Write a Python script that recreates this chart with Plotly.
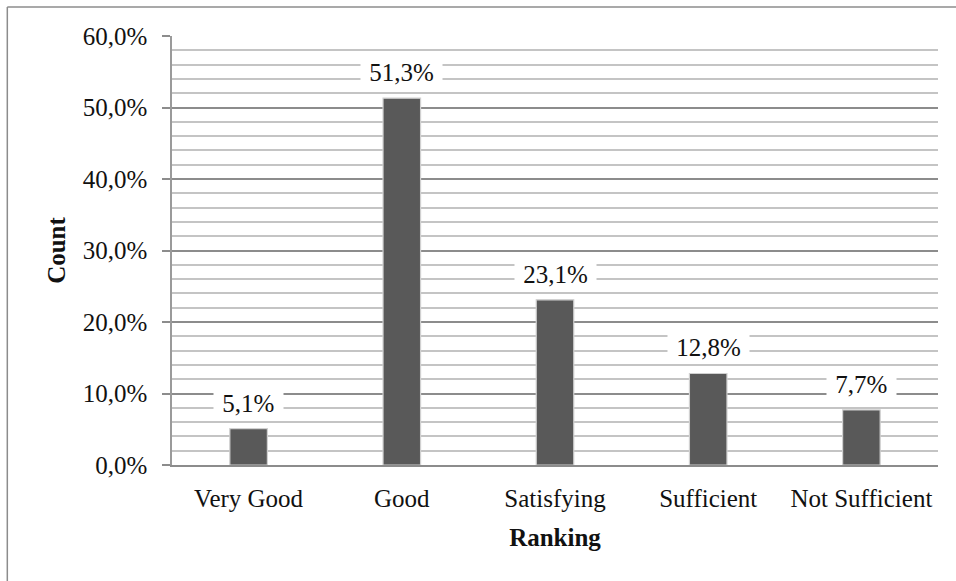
import plotly.graph_objects as go

categories = ["Very Good", "Good", "Satisfying", "Sufficient", "Not Sufficient"]
shares = [5.1, 51.3, 23.1, 12.8, 7.7]
y_ticks = [0, 10, 20, 30, 40, 50, 60]
y_tick_labels = ["0,0%", "10,0%", "20,0%", "30,0%", "40,0%", "50,0%", "60,0%"]

FONT = "Liberation Serif"
SIZE = 25


def pct(v):
    return f"{v:.1f}".replace(".", ",") + "%"


fig = go.Figure()
fig.add_trace(go.Bar(
    x=categories,
    y=shares,
    width=0.245,
    marker=dict(color="#595959", line=dict(color="#d0d0d0", width=1.2)),
    hoverinfo="skip",
))

# value labels on white boxes above the bars
for c, v in zip(categories, shares):
    fig.add_annotation(
        x=c, y=v, text="&nbsp;" + pct(v) + "&nbsp;", showarrow=False,
        yanchor="bottom", yshift=9,
        bgcolor="white", borderpad=2,
        font=dict(family=FONT, size=SIZE, color="#111"),
    )

fig.update_layout(
    width=956, height=581,
    margin=dict(l=172, r=18, t=36, b=116),
    paper_bgcolor="white", plot_bgcolor="white",
    showlegend=False,
    font=dict(family=FONT, size=SIZE, color="#111"),
    xaxis=dict(
        showgrid=False, showline=True, linecolor="#8c8c8c", linewidth=1.5,
        ticks="", ticklabelstandoff=10,
        tickfont=dict(family=FONT, size=SIZE, color="#111"),
        title=dict(text="<b>Ranking</b>", standoff=18,
                   font=dict(family=FONT, size=SIZE, color="#111")),
    ),
    yaxis=dict(
        range=[0, 60], tickvals=y_ticks, ticktext=y_tick_labels,
        showline=True, linecolor="#9a9a9a", linewidth=1.5,
        ticks="outside", ticklen=8, tickcolor="#8c8c8c", tickwidth=1.5,
        ticklabelstandoff=10,
        showgrid=True, gridcolor="#8c8c8c", gridwidth=1.5,
        minor=dict(dtick=2, showgrid=True, gridcolor="#c4c4c4", gridwidth=1.5),
        zeroline=False,
        tickfont=dict(family=FONT, size=SIZE, color="#111"),
        title=dict(text="<b>Count</b>", standoff=10,
                   font=dict(family=FONT, size=SIZE, color="#111")),
    ),
)

# outer chart frame
fig.add_shape(type="line", xref="paper", yref="paper",
              x0=-0.215, x1=1.1, y0=1.0676, y1=1.0676,
              line=dict(color="#8c8c8c", width=1.5))
fig.add_shape(type="line", xref="paper", yref="paper",
              x0=-0.215, x1=-0.215, y0=-0.3, y1=1.0676,
              line=dict(color="#8c8c8c", width=1.5))

fig.write_html("out.html")
